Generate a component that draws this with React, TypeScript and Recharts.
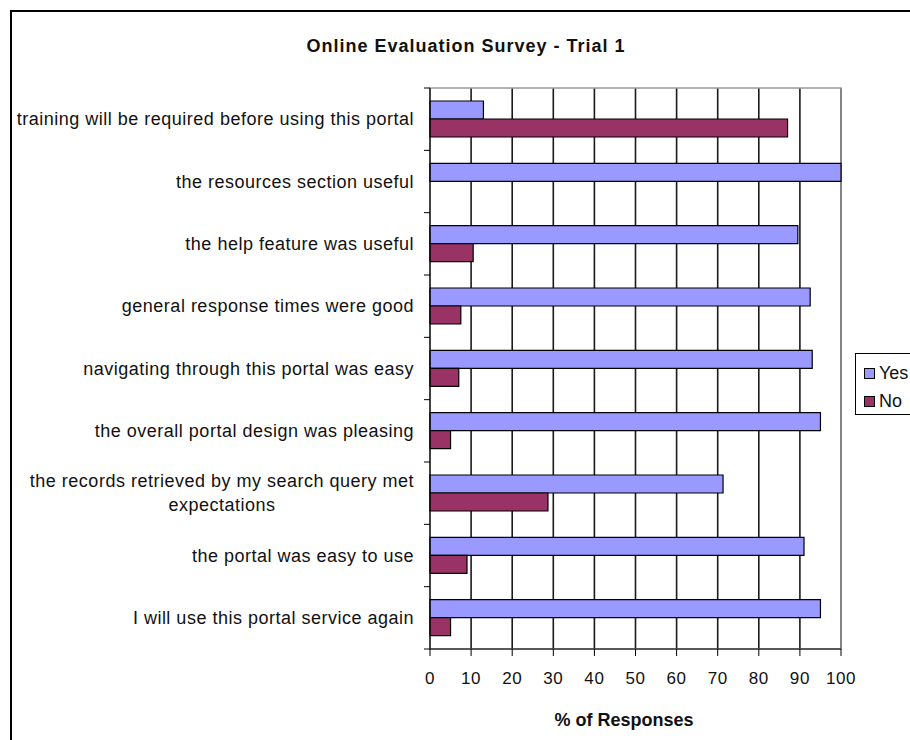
import React from "react";
import { Bar, BarChart, CartesianGrid, ReferenceArea, XAxis, YAxis } from "recharts";

const categories = [
  "training will be required before using this portal",
  "the resources section useful",
  "the help feature was useful",
  "general response times were good",
  "navigating through this portal was easy",
  "the overall portal design was pleasing",
  "the records retrieved by my search query met\nexpectations",
  "the portal was easy to use",
  "I will use this portal service again",
];
const yesValues = [13, 100, 89.5, 92.5, 93, 95, 71.3, 91, 95];
const noValues = [87, 0, 10.5, 7.5, 7, 5, 28.7, 9, 5];
const xTicks = [0, 10, 20, 30, 40, 50, 60, 70, 80, 90, 100];

const seriesNames = ["Yes", "No"];
const seriesColors = ["#9999ff", "#993366"];

const data = categories.map((label, i) => ({ label, yes: yesValues[i], no: noValues[i] }));

const FONT = '"Liberation Sans", Arial, sans-serif';
const PLOT_TOP = 88;
const PLOT_BOTTOM = 649;
const BAND = (PLOT_BOTTOM - PLOT_TOP) / categories.length;

let measureCtx: CanvasRenderingContext2D | null = null;
function textWidth(s: string) {
  if (!measureCtx) {
    measureCtx = document.createElement("canvas").getContext("2d");
  }
  if (!measureCtx) return s.length * 8;
  measureCtx.font = `18px ${FONT}`;
  return measureCtx.measureText(s).width + s.length * 0.5;
}

function CategoryTick(props: any) {
  const { x, y, payload, index } = props;
  const lines = String(payload.value).split("\n");
  const lineH = 24;
  const startY = y - ((lines.length - 1) * lineH) / 2;
  let ax = x;
  let anchor: "end" | "middle" = "end";
  if (lines.length > 1) {
    const w = Math.max(...lines.map(textWidth));
    ax = x - w / 2;
    anchor = "middle";
  }
  return (
    <g>
      <line x1={x + 10} x2={x + 16} y1={y - BAND / 2} y2={y - BAND / 2} stroke="#000" />
      {index === categories.length - 1 && (
        <line x1={x + 10} x2={x + 16} y1={y + BAND / 2} y2={y + BAND / 2} stroke="#000" />
      )}
      <text textAnchor={anchor} fontSize={18} fill="#111" style={{ letterSpacing: "0.5px" }}>
        {lines.map((l, i) => (
          <tspan key={i} x={ax} y={startY + i * lineH} dy="0.35em">
            {l}
          </tspan>
        ))}
      </text>
    </g>
  );
}

export default function App() {
  return (
    <div
      style={{
        position: "absolute",
        left: 0,
        top: 0,
        width: 910,
        height: 740,
        overflow: "hidden",
        background: "#fff",
        fontFamily: FONT,
      }}
    >
      <div
        style={{
          position: "absolute",
          left: 10,
          top: 10,
          width: 1000,
          height: 1000,
          borderLeft: "2px solid #000",
          borderTop: "2px solid #000",
        }}
      />
      <div
        style={{
          position: "absolute",
          left: 0,
          top: 36,
          width: 932,
          textAlign: "center",
          fontSize: 18,
          lineHeight: "20px",
          fontWeight: "bold",
          letterSpacing: "1px",
          color: "#111",
        }}
      >
        Online Evaluation Survey - Trial 1
      </div>

      <div style={{ position: "absolute", left: 0, top: 0 }}>
        <BarChart
          width={910}
          height={740}
          data={data}
          layout="vertical"
          margin={{ top: PLOT_TOP, right: 69, bottom: 0, left: 0 }}
          barGap={0}
          style={{ fontFamily: FONT }}
        >
          <CartesianGrid horizontal={false} stroke="#1a1a1a" strokeWidth={1.6} />
          <ReferenceArea x1={0} x2={100} fill="none" stroke="#999" strokeWidth={1.5} />
          <XAxis
            type="number"
            domain={[0, 100]}
            ticks={xTicks}
            height={740 - PLOT_BOTTOM}
            tickSize={7}
            tickMargin={16}
            stroke="#000"
            tick={{ fill: "#111", fontSize: 17, letterSpacing: "0.6px" } as any}
            interval={0}
          />
          <YAxis
            type="category"
            dataKey="label"
            width={430}
            tickLine={false}
            tickSize={0}
            tickMargin={16}
            stroke="#000"
            interval={0}
            tick={<CategoryTick />}
          />
          <Bar
            dataKey="yes"
            name={seriesNames[0]}
            fill={seriesColors[0]}
            stroke="#000"
            strokeWidth={1.2}
            barSize={18}
            isAnimationActive={false}
          />
          <Bar
            dataKey="no"
            name={seriesNames[1]}
            fill={seriesColors[1]}
            stroke="#000"
            strokeWidth={1.2}
            barSize={18}
            isAnimationActive={false}
          />
        </BarChart>
      </div>

      <div
        style={{
          position: "absolute",
          left: 524,
          top: 710,
          width: 200,
          textAlign: "center",
          fontSize: 18,
          lineHeight: "20px",
          fontWeight: "bold",
          color: "#111",
        }}
      >
        % of Responses
      </div>

      <div
        style={{
          position: "absolute",
          left: 855,
          top: 353,
          width: 80,
          height: 60,
          border: "1px solid #000",
          background: "#fff",
        }}
      >
        {seriesNames.map((name, i) => (
          <div
            key={name}
            style={{
              position: "absolute",
              left: 8,
              top: 9 + i * 28,
              height: 20,
              display: "flex",
              alignItems: "center",
              fontSize: 18,
              color: "#111",
            }}
          >
            <span
              style={{
                display: "inline-block",
                width: 9,
                height: 9,
                background: seriesColors[i],
                border: "1px solid #000",
                marginRight: 4,
              }}
            />
            {name}
          </div>
        ))}
      </div>
    </div>
  );
}
